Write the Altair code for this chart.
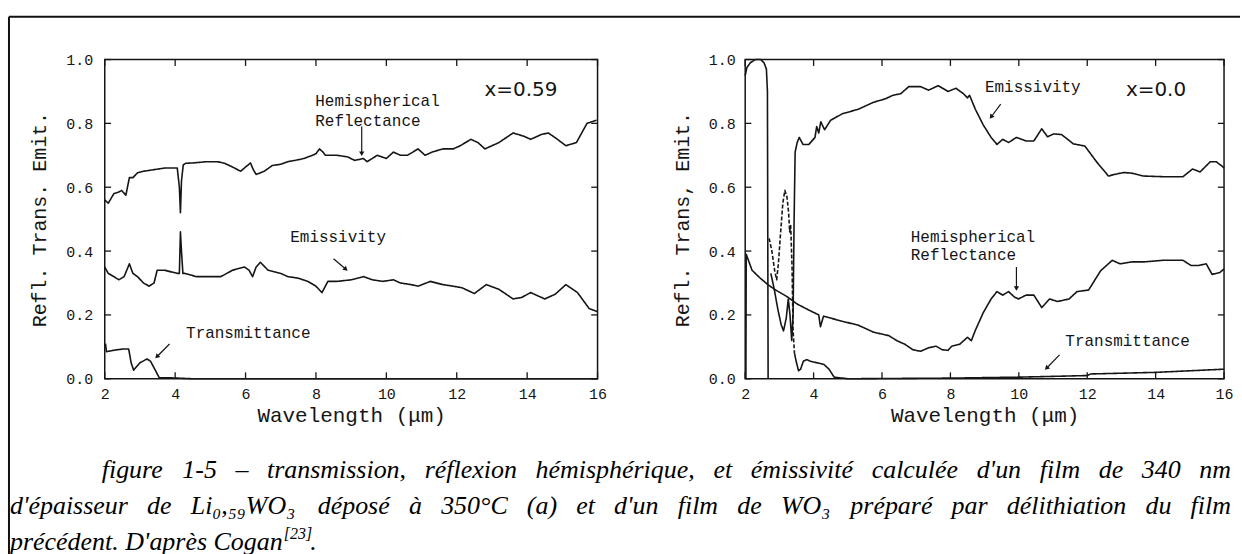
import altair as alt
import pandas as pd

# ---------------- data ----------------
# panel (a)  x = 0.59
RA_X = [2.0,2.1,2.26,2.4,2.48,2.6,2.7,2.8,2.93,3.1,3.4,3.7,4.06,4.12,4.15,4.18,4.23,4.3,4.5,4.9,
        5.2,5.4,5.6,5.86,6.02,6.14,6.22,6.3,6.53,6.76,7.0,7.2,7.45,7.66,7.9,8.0,8.1,8.2,8.27,8.6,
        8.9,9.1,9.35,9.45,9.6,9.74,10.0,10.2,10.4,10.6,10.9,11.1,11.3,11.6,11.9,12.1,12.4,12.6,12.8,13.0,
        13.2,13.6,13.9,14.1,14.4,14.6,14.8,15.1,15.4,15.7,15.97]
RA_Y = [0.56,0.55,0.58,0.585,0.59,0.575,0.63,0.63,0.645,0.65,0.655,0.66,0.66,0.6,0.52,0.62,0.67,0.675,0.676,0.68,
        0.68,0.675,0.665,0.65,0.665,0.676,0.655,0.64,0.65,0.668,0.672,0.68,0.685,0.69,0.70,0.705,0.72,0.71,0.70,0.70,
        0.695,0.684,0.69,0.68,0.69,0.70,0.69,0.71,0.70,0.70,0.72,0.70,0.71,0.72,0.72,0.73,0.75,0.74,0.72,0.73,
        0.74,0.77,0.76,0.75,0.765,0.77,0.755,0.73,0.74,0.80,0.81]
EA_X = [2.0,2.1,2.26,2.4,2.55,2.7,2.8,2.93,3.1,3.26,3.4,3.49,3.7,4.06,4.12,4.15,4.18,4.22,4.28,4.6,
        5.0,5.3,5.63,5.97,6.1,6.2,6.3,6.42,6.64,7.0,7.2,7.5,7.77,8.0,8.17,8.34,8.6,9.0,9.35,9.6,
        9.9,10.2,10.4,10.7,10.9,11.25,11.6,11.9,12.15,12.5,12.84,13.2,13.6,13.85,14.1,14.5,14.8,15.1,15.43,15.76,16.0]
EA_Y = [0.35,0.33,0.32,0.31,0.32,0.36,0.33,0.32,0.30,0.29,0.30,0.34,0.34,0.33,0.33,0.46,0.40,0.33,0.33,0.32,
        0.32,0.32,0.34,0.35,0.34,0.32,0.35,0.365,0.34,0.33,0.32,0.315,0.305,0.29,0.27,0.305,0.305,0.31,0.32,0.31,
        0.305,0.31,0.30,0.295,0.29,0.305,0.295,0.29,0.285,0.267,0.295,0.28,0.25,0.255,0.27,0.25,0.265,0.295,0.27,0.22,0.21]
TA_X = [2.02,2.05,2.3,2.5,2.68,2.75,2.82,3.0,3.2,3.3,3.42,3.55,3.84,4.5,16.0]
TA_Y = [0.11,0.085,0.09,0.093,0.093,0.05,0.027,0.05,0.062,0.055,0.03,0.003,0.003,0.0,0.0]

# panel (b)  x = 0.0
EB_TOP_X = [2.0,2.05,2.15,2.3,2.45,2.55,2.62,2.65,2.67]
EB_TOP_Y = [0.95,0.975,0.99,1.0,1.0,0.99,0.97,0.9,0.0]
EB_X = [2.75,2.85,2.95,3.05,3.12,3.2,3.26,3.31,3.36,3.4,3.43,3.46,3.52,3.58,3.69,3.86,4.04,4.09,4.15,4.21,
        4.32,4.5,4.84,5.3,5.75,6.1,6.32,6.55,6.78,7.13,7.36,7.64,7.93,8.16,8.38,8.5,8.56,8.73,8.96,9.19,
        9.36,9.53,9.7,9.93,10.21,10.44,10.67,10.84,11.02,11.25,11.59,11.93,12.27,12.62,12.79,13.07,13.3,13.65,14.2,14.8,
        15.08,15.3,15.6,15.77,15.94,16.0]
EB_Y = [0.33,0.28,0.22,0.17,0.15,0.19,0.25,0.2,0.12,0.2,0.5,0.71,0.74,0.756,0.734,0.734,0.756,0.79,0.77,0.805,
        0.78,0.81,0.83,0.844,0.866,0.877,0.888,0.893,0.915,0.915,0.904,0.918,0.90,0.91,0.893,0.88,0.888,0.844,0.795,0.756,
        0.734,0.75,0.74,0.756,0.745,0.745,0.783,0.758,0.767,0.765,0.736,0.729,0.68,0.635,0.64,0.646,0.644,0.635,0.633,0.633,
        0.657,0.648,0.68,0.68,0.666,0.66]
TB1_X = [2.7,2.78,2.86,2.92,2.97,3.03,3.1,3.16,3.22,3.27,3.3,3.33,3.37,3.4,3.44]
TB1_Y = [0.44,0.40,0.34,0.31,0.36,0.45,0.55,0.59,0.57,0.52,0.46,0.48,0.35,0.15,0.08]
TB2_X = [3.44,3.5,3.56,3.62,3.7,3.8,3.9,4.1,4.3,4.45,4.6,5.0,8.0,10.0,12.0,12.1,14.0,16.0]
TB2_Y = [0.08,0.05,0.025,0.03,0.055,0.06,0.055,0.05,0.045,0.03,0.005,0.0,0.002,0.005,0.01,0.015,0.02,0.03]
RB_X = [2.02,2.03,2.2,2.43,2.66,2.89,3.24,3.52,3.92,4.15,4.2,4.29,4.84,5.3,5.75,6.2,6.44,6.67,6.9,7.13,
        7.36,7.58,7.76,7.93,8.04,8.27,8.5,8.61,8.73,8.96,9.19,9.36,9.53,9.7,9.87,9.99,10.21,10.44,10.67,10.9,
        11.13,11.47,11.7,12.04,12.39,12.73,12.96,13.3,13.65,14.2,14.8,15.03,15.26,15.48,15.65,15.88,16.0]
RB_Y = [0.0,0.39,0.34,0.316,0.295,0.278,0.256,0.234,0.212,0.20,0.163,0.196,0.18,0.168,0.146,0.135,0.119,0.108,0.091,0.086,
        0.097,0.102,0.091,0.089,0.102,0.108,0.13,0.119,0.152,0.207,0.25,0.273,0.262,0.273,0.256,0.25,0.262,0.262,0.223,0.25,
        0.242,0.25,0.273,0.278,0.338,0.371,0.36,0.366,0.366,0.371,0.371,0.355,0.355,0.36,0.327,0.333,0.344]

X_TICKS = [2, 4, 6, 8, 10, 12, 14, 16]
Y_TICKS = [0.0, 0.2, 0.4, 0.6, 0.8, 1.0]

# annotation labels: (text, x, y)
ANN_A = [("Hemispherical", 7.98, 0.87), ("Reflectance", 7.98, 0.807),
         ("Emissivity", 7.27, 0.444), ("Transmittance", 4.31, 0.142)]
TAG_A = [("x=0.59", 12.79, 0.905)]
ARR_A = [(9.3, 0.79, 9.3, 0.705, 180), (8.5, 0.376, 8.85, 0.343, 131), (3.84, 0.109, 3.48, 0.069, 225)]
ANN_B = [("Emissivity", 9.01, 0.915), ("Hemispherical", 6.84, 0.443), ("Reflectance", 6.84, 0.388),
         ("Transmittance", 11.36, 0.119)]
TAG_B = [("x=0.0", 13.13, 0.904)]
ARR_B = [(9.47, 0.86, 9.19, 0.82, 217), (9.93, 0.35, 9.93, 0.283, 180), (11.19, 0.075, 10.81, 0.033, 224)]

CAPTION_1 = "figure 1-5 \u2013 transmission, r\u00e9flexion h\u00e9misph\u00e9rique, et \u00e9missivit\u00e9 calcul\u00e9e d'un film de 340 nm"
CAPTION_2 = "d'\u00e9paisseur de Li\u2080,\u2085\u2089WO\u2083 d\u00e9pos\u00e9 \u00e0 350\u00b0C (a) et d'un film de WO\u2083 pr\u00e9par\u00e9 par d\u00e9lithiation du film"
CAPTION_3 = "pr\u00e9c\u00e9dent. D'apr\u00e8s Cogan"
CAPTION_REF = "[23]"

INK = "#151515"
LABEL_FONT = "Liberation Mono"
CAP_FONT_SIZE = 26

# approximate Times-Italic advance widths (per 1000 em) for justifying the caption
_TI = {" ": 250, "'": 214, "(": 333, ")": 333, ",": 250, "-": 333, ".": 250, "\u2013": 500, "\u00b0": 400,
       "A": 611, "C": 667, "D": 722, "L": 556, "O": 722, "W": 833, "[": 389, "]": 389,
       "a": 500, "b": 500, "c": 444, "d": 500, "e": 444, "f": 278, "g": 500, "h": 500, "i": 278, "j": 278,
       "k": 444, "l": 278, "m": 722, "n": 500, "o": 500, "p": 500, "q": 500, "r": 389, "s": 389, "t": 278,
       "u": 500, "v": 444, "w": 667, "x": 444, "y": 444, "z": 389}


def text_width(s, size):
    w = 0
    for ch in s:
        if ch in "\u2080\u2081\u2082\u2083\u2084\u2085\u2086\u2087\u2088\u2089":
            w += 380
        elif ch.isdigit():
            w += 500
        else:
            base = ch
            for a, b in (("\u00e9", "e"), ("\u00e8", "e"), ("\u00e0", "a")):
                base = base.replace(a, b)
            w += _TI.get(base, 500)
    return w * size / 1000.0


def justified(line, x0, x1, y, style):
    words = line.split(" ")
    widths = [text_width(w, CAP_FONT_SIZE) for w in words]
    gap = (x1 - x0 - sum(widths)) / (len(words) - 1)
    out, x = [], x0
    for w, wd in zip(words, widths):
        out.append(alt.Chart(ONE).mark_text(text=w, **style).encode(x=alt.value(round(x, 1)), y=alt.value(y)))
        x += wd + gap
    return out


def seg_df(segs):
    rows = []
    for name, dash, xs, ys in segs:
        assert len(xs) == len(ys), name
        for i, (a, b) in enumerate(zip(xs, ys)):
            rows.append({"seg": name, "dash": dash, "x": a, "y": b, "i": i})
    return pd.DataFrame(rows)


X_SCALE = alt.Scale(domain=[2, 16], nice=False, zero=False)
Y_SCALE = alt.Scale(domain=[0, 1], nice=False, zero=False)
ONE = pd.DataFrame({"t": ["-"]})


def make_panel(segs, ann, tags, arrows, width, ytitle, ytitle_pad, ylabel_pad, extra=()):
    xaxis = alt.Axis(values=X_TICKS, format="d", title="Wavelength (\u03bcm)", grid=False, domain=False,
                     ticks=False, labelPadding=8, titlePadding=3, labelFont=LABEL_FONT, labelFontSize=15,
                     labelColor=INK, titleFont=LABEL_FONT, titleFontSize=21, titleFontWeight="normal",
                     titleColor=INK, labelFlush=False)
    yaxis = alt.Axis(values=Y_TICKS, format=".1f", title=ytitle, grid=False, domain=False, ticks=False,
                     labelPadding=ylabel_pad, titlePadding=ytitle_pad, labelFont=LABEL_FONT, labelFontSize=15,
                     labelColor=INK, titleFont=LABEL_FONT, titleFontSize=20, titleFontWeight="normal",
                     titleColor=INK, labelFlush=False)

    def X(f):
        return alt.X(f, type="quantitative", scale=X_SCALE, axis=xaxis)

    def Y(f):
        return alt.Y(f, type="quantitative", scale=Y_SCALE, axis=yaxis)

    lines = alt.Chart(seg_df(segs)).mark_line(color=INK, strokeWidth=1.6, strokeJoin="round").encode(
        x=X("x"), y=Y("y"), detail="seg:N", order="i:Q",
        strokeDash=alt.StrokeDash("dash:N", scale=alt.Scale(domain=["solid", "dash"], range=[[1, 0], [4, 2]]),
                                  legend=None))

    # inward ticks on all four sides
    tk = []
    for t in X_TICKS:
        tk.append({"x": t, "x2": t, "y": 0.0, "y2": 0.02})
        tk.append({"x": t, "x2": t, "y": 1.0, "y2": 0.98})
    for t in Y_TICKS:
        tk.append({"x": 2.0, "x2": 2.18, "y": t, "y2": t})
        tk.append({"x": 16.0, "x2": 15.82, "y": t, "y2": t})
    ticks = alt.Chart(pd.DataFrame(tk)).mark_rule(color=INK, strokeWidth=1.3).encode(
        x=X("x"), x2="x2:Q", y=Y("y"), y2="y2:Q")

    ann_df = pd.DataFrame(ann, columns=["label", "x", "y"])
    texts = alt.Chart(ann_df).mark_text(align="left", baseline="middle", font=LABEL_FONT, fontSize=16,
                                        color=INK).encode(x=X("x"), y=Y("y"), text="label:N")
    tag_df = pd.DataFrame(tags, columns=["label", "x", "y"])
    tag = alt.Chart(tag_df).mark_text(align="left", baseline="middle", font="DejaVu Sans", fontSize=20,
                                      color=INK).encode(x=X("x"), y=Y("y"), text="label:N")

    arr_df = pd.DataFrame(arrows, columns=["x", "y", "x2", "y2", "ang"])
    arr = alt.Chart(arr_df).mark_rule(color=INK, strokeWidth=1.2).encode(
        x=X("x"), y=Y("y"), x2="x2:Q", y2="y2:Q")
    heads = alt.Chart(arr_df).mark_point(shape="triangle-up", filled=True, size=28, color=INK, opacity=1).encode(
        x=X("x2"), y=Y("y2"), angle=alt.Angle("ang:Q", scale=None))

    layers = [lines, ticks, texts, tag, arr, heads] + list(extra)
    return alt.layer(*layers).properties(width=width, height=320)


# caption and outer frame, positioned relative to the left plot area (origin at 103, 57)
cap_style = dict(font="Liberation Serif", fontStyle="italic", fontSize=CAP_FONT_SIZE, color="#000",
                 baseline="alphabetic", align="left")
line3_w = text_width(CAPTION_3, CAP_FONT_SIZE)
ref_w = text_width(CAPTION_REF, 16)
caption = (
    justified(CAPTION_1, -3, 1129, 419, cap_style)
    + justified(CAPTION_2, -95, 1129, 456, cap_style)
    + [
        alt.Chart(ONE).mark_text(text=CAPTION_3, **cap_style).encode(x=alt.value(-95), y=alt.value(492)),
        alt.Chart(ONE).mark_text(text=CAPTION_REF, font="Liberation Serif", fontStyle="italic", fontSize=16,
                                 color="#000", baseline="alphabetic", align="left").encode(
            x=alt.value(round(-95 + line3_w + 1, 1)), y=alt.value(481)),
        alt.Chart(ONE).mark_text(text=".", **cap_style).encode(
            x=alt.value(round(-95 + line3_w + ref_w - 1, 1)), y=alt.value(492)),
        alt.Chart(ONE).mark_rule(color="#111", strokeWidth=2).encode(
            x=alt.value(-96), y=alt.value(-43), y2=alt.value(496)),
        alt.Chart(ONE).mark_rule(color="#111", strokeWidth=2).encode(
            x=alt.value(-96), x2=alt.value(1138), y=alt.value(-43)),
    ]
)

left = make_panel(
    [("R", "solid", RA_X, RA_Y), ("E", "solid", EA_X, EA_Y), ("T", "solid", TA_X, TA_Y)],
    ANN_A, TAG_A, ARR_A, 494, "Refl. Trans. Emit.", 16, 12, extra=caption)
right = make_panel(
    [("R", "solid", RB_X, RB_Y), ("E0", "solid", EB_TOP_X, EB_TOP_Y), ("E", "solid", EB_X, EB_Y),
     ("T1", "dash", TB1_X, TB1_Y), ("T2", "solid", TB2_X, TB2_Y)],
    ANN_B, TAG_B, ARR_B, 480, "Refl. Trans, Emit.", 16, 10)

chart = alt.hconcat(left, right, spacing=148, bounds="flush").properties(
    padding={"left": 7, "top": 14, "right": 0, "bottom": 0},
    autosize=alt.AutoSizeParams(type="pad"),
    background="white",
).configure_view(stroke=INK, strokeWidth=1.5)

chart.save("out.html", embed_options={"renderer": "svg", "actions": False})
